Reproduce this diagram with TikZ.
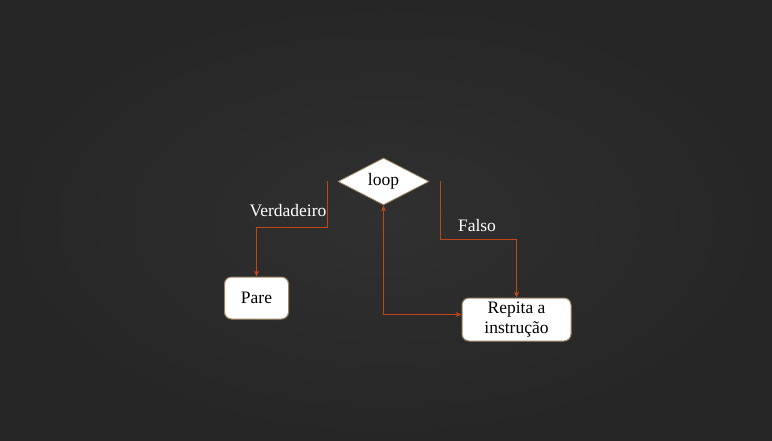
\documentclass[tikz,border=0pt]{standalone}
\usepackage{fontspec}
\setmainfont{Liberation Serif}
\newfontfamily\diagfont{Liberation Serif}
\usetikzlibrary{shapes.geometric,arrows.meta}
\definecolor{bgin}{HTML}{303030}
\definecolor{bgout}{HTML}{262626}
\definecolor{conncol}{HTML}{C0461A}
\definecolor{boxedge}{HTML}{9C8462}
\tikzset{
  txt/.style={font=\diagfont\fontsize{17.5}{20}\selectfont},
  conn/.style={draw=conncol, line width=1.2pt},
  tip/.style={-{Stealth[length=6pt,width=5pt]}},
  boxnode/.style={txt, draw=boxedge, line width=1pt, fill=white, rounded corners=7pt, align=center, inner sep=2pt},
  lbl/.style={txt, text=white, inner sep=0pt}
}
\begin{document}
\begin{tikzpicture}[x=1pt,y=-1pt]
\useasboundingbox (0,0) rectangle (772,441);
\shade[inner color=bgin, outer color=bgout] (0,0) rectangle (772,441);
\node[txt, diamond, draw=boxedge, line width=0.8pt, fill=white, minimum width=91pt, minimum height=43pt, inner sep=0pt] (loop) at (383.5,181.5) {loop};
\node[boxnode, minimum width=64pt, minimum height=42pt] (pare) at (256.5,298) {Pare};
\node[boxnode, minimum width=109pt, minimum height=43pt] (rep) at (516.5,319.5) {Repita a\\instrução};
\coordinate (vs) at (327.5,181);
\coordinate (vm) at (327.5,227.5);
\draw[conn,tip] (vs) -- (vm) -| (pare.north);
\coordinate (fs) at (440.5,181);
\coordinate (fm) at (440.5,239.5);
\draw[conn,tip] (fs) -- (fm) -| (rep.north);
\coordinate (lb) at (383.5,314.5);
\draw[conn,{Stealth[length=6pt,width=5pt]}-{Stealth[length=6pt,width=5pt]}] (loop.south) -- (lb) -- (lb -| rep.west);
\node[lbl] (tv) at (288,211) {Verdadeiro};
\node[lbl] (tf) at (477,226) {Falso};
\end{tikzpicture}
\end{document}
